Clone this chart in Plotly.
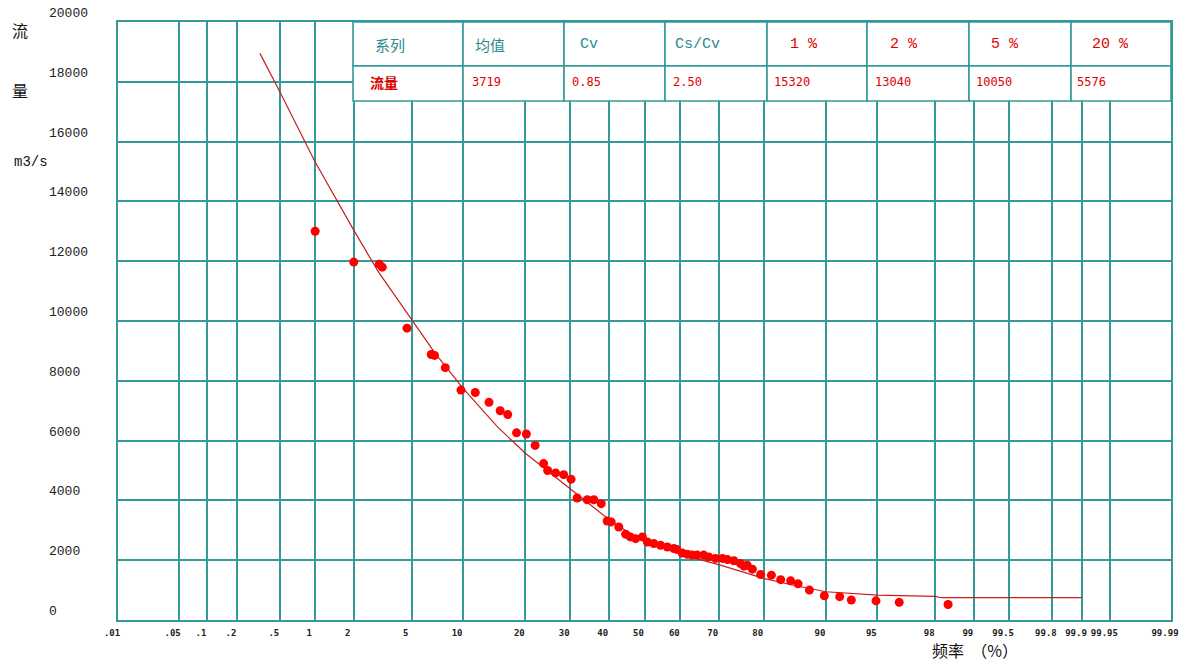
import plotly.graph_objects as go
from statistics import NormalDist

# ---------------- data ----------------
# empirical points: exceedance probability (%) and flow (m3/s)
obs_p = [1.0, 2.0, 3.05, 3.2, 4.67, 6.6, 6.9, 7.97, 9.74, 11.6, 13.6, 15.4, 16.7, 18.3, 20.2,
         22.0, 23.8, 24.7, 26.5, 28.4, 30.2, 31.7, 34.3, 36.0, 38.0, 39.6, 40.7, 42.8, 44.7,
         46.0, 47.5, 49.4, 50.8, 52.6, 54.5, 56.4, 58.2, 59.0, 60.5, 61.9, 63.2, 64.5, 66.2,
         67.5, 69.2, 70.9, 72.1, 73.6, 75.1, 75.9, 76.6, 77.7, 79.4, 81.5, 83.2, 84.9, 86.1,
         87.8, 89.8, 91.6, 92.8, 94.9, 96.4, 98.4]
obs_q = [13000, 11970, 11900, 11800, 9760, 8880, 8850, 8440, 7690, 7610, 7280, 7000, 6870, 6260, 6220,
         5840, 5230, 5000, 4920, 4860, 4710, 4080, 4020, 4020, 3890, 3310, 3280, 3110, 2870,
         2780, 2720, 2780, 2610, 2560, 2500, 2440, 2390, 2360, 2240, 2200, 2170, 2170, 2170,
         2110, 2060, 2060, 2020, 1980, 1890, 1800, 1830, 1700, 1520, 1500, 1350, 1310, 1210,
         1000, 810, 780, 670, 640, 590, 520]

# fitted frequency curve
curve_p = [0.33, 0.5, 1, 2, 3, 5, 7, 10, 15, 20, 25, 30, 35, 40, 45, 50, 55, 60, 65, 70, 75,
           80, 85, 90, 95, 98, 98.2, 99.9]
curve_q = [18950, 17670, 15320, 13040, 11650, 10050, 8900, 7750, 6450, 5576, 4950, 4400, 3860,
           3370, 2970, 2640, 2420, 2230, 2030, 1850, 1620, 1390, 1180, 945, 833, 790, 745, 745]

# axis ticks
grid_p = [0.01, 0.05, 0.1, 0.2, 0.5, 1, 2, 5, 10, 20, 30, 40, 50, 60, 70, 80, 90, 95, 98, 99,
          99.5, 99.8, 99.9, 99.95, 99.99]
grid_labels = [".01", ".05", ".1", ".2", ".5", "1", "2", "5", "10", "20", "30", "40", "50", "60",
               "70", "80", "90", "95", "98", "99", "99.5", "99.8", "99.9", "99.95", "99.99"]
y_ticks = [0, 2000, 4000, 6000, 8000, 10000, 12000, 14000, 16000, 18000, 20000]

# statistics table
table_header = ["系列", "均值", "Cv", "Cs/Cv", "1 %", "2 %", "5 %", "20 %"]
table_values = ["流量", "3719", "0.85", "2.50", "15320", "13040", "10050", "5576"]

# ---------------- layout constants ----------------
W, H = 1196, 666
ML, MR, MT, MB = 118, 25, 22, 46
PW, PH = W - ML - MR, H - MT - MB
GRID = "#339999"
TEAL_TXT = "#2a8a8a"
RED = "#e00000"

nd = NormalDist()
def zq(p):
    return nd.inv_cdf(p / 100.0)

def px2x(px):
    return (px - ML) / PW

def py2y(py):
    return (H - MB - py) / PH

fig = go.Figure()

fig.add_trace(go.Scatter(
    x=[zq(p) for p in curve_p], y=curve_q, mode="lines",
    line=dict(color="#c81e1e", width=1.2),
    hoverinfo="skip", showlegend=False))

fig.add_trace(go.Scatter(
    x=[zq(p) for p in obs_p], y=obs_q, mode="markers",
    marker=dict(color="#ff0000", size=9, line=dict(width=0)), showlegend=False))

shapes = []
annotations = []

# table
col_px = [353, 463, 564, 665, 767, 867, 969, 1071, 1171]
row_py = [22, 66, 101]
hdr_pad = [20, 10, 14, 8, 21, 21, 20, 19]
val_pad = [15, 7, 6, 6, 5, 6, 5, 4]
for i in range(len(table_header)):
    for r in range(2):
        shapes.append(dict(type="rect", xref="paper", yref="paper",
                           x0=px2x(col_px[i]), x1=px2x(col_px[i + 1]),
                           y0=py2y(row_py[r + 1]), y1=py2y(row_py[r]),
                           fillcolor="white", line=dict(color=GRID, width=1.6), layer="above"))
    is_cjk = i == 0 or i == 1
    hcolor = TEAL_TXT if i < 4 else RED
    annotations.append(dict(
        xref="paper", yref="paper", x=px2x(col_px[i] + hdr_pad[i]), y=py2y(45),
        xanchor="left", yanchor="middle", showarrow=False, text=table_header[i],
        font=dict(family="Noto Sans CJK SC" if is_cjk else "Liberation Mono",
                  size=15, color=hcolor)))
    annotations.append(dict(
        xref="paper", yref="paper", x=px2x(col_px[i] + val_pad[i]), y=py2y(82),
        xanchor="left", yanchor="middle", showarrow=False,
        text=("<b>%s</b>" % table_values[i]) if i == 0 else table_values[i],
        font=dict(family="Noto Sans CJK SC" if i == 0 else "DejaVu Sans Mono",
                  size=14 if i == 0 else 12, color=RED)))

# y tick labels (left aligned)
for v in y_ticks:
    annotations.append(dict(
        xref="paper", yref="y", x=px2x(47), y=v, xanchor="left", yanchor="middle",
        yshift=8.5, showarrow=False, text="%d" % v,
        font=dict(family="Liberation Mono", size=13, color="#222222")))

# axis titles
annotations += [
    dict(xref="paper", yref="paper", x=px2x(20), y=py2y(30), text="流", showarrow=False,
         xanchor="center", yanchor="middle",
         font=dict(family="Noto Sans CJK SC", size=16, color="#111111")),
    dict(xref="paper", yref="paper", x=px2x(20), y=py2y(90), text="量", showarrow=False,
         xanchor="center", yanchor="middle",
         font=dict(family="Noto Sans CJK SC", size=16, color="#111111")),
    dict(xref="paper", yref="paper", x=px2x(31), y=py2y(162), text="m3/s", showarrow=False,
         xanchor="center", yanchor="middle",
         font=dict(family="Liberation Mono", size=14, color="#111111")),
    dict(xref="paper", yref="paper", x=px2x(975), y=py2y(650), text="频率  （%）",
         showarrow=False, xanchor="center", yanchor="middle",
         font=dict(family="Noto Sans CJK SC", size=16, color="#111111")),
]

fig.update_layout(
    width=W, height=H,
    margin=dict(l=ML, r=MR, t=MT, b=MB),
    paper_bgcolor="white", plot_bgcolor="white",
    shapes=shapes, annotations=annotations,
    xaxis=dict(range=[zq(0.01), zq(99.99)], tickmode="array",
               tickvals=[zq(p) for p in grid_p], ticktext=["<b>%s</b>" % t for t in grid_labels],
               showgrid=True, gridcolor=GRID, gridwidth=1.6, zeroline=False,
               showline=True, linecolor=GRID, linewidth=1.6, mirror=True,
               ticks="", ticklabelshift=-6, ticklabelstandoff=3,
               tickfont=dict(family="DejaVu Sans Mono", size=9, color="#222222"),
               fixedrange=True),
    yaxis=dict(range=[0, 20000], tickmode="array", tickvals=y_ticks,
               showticklabels=False, showgrid=True, gridcolor=GRID, gridwidth=1.6,
               zeroline=False, showline=True, linecolor=GRID, linewidth=1.6, mirror=True,
               ticks="", fixedrange=True),
    hovermode="closest",
)

fig.write_html("out.html", config={"displayModeBar": False})
